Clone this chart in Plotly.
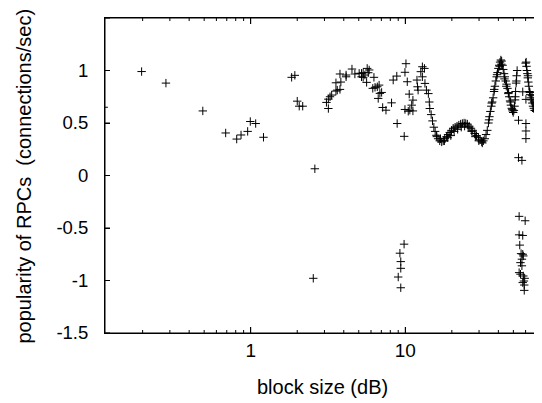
import plotly.graph_objects as go

# ---- data ----
sparse_x = [0.112, 0.197, 0.283, 0.49, 0.689, 0.812, 0.866, 0.956, 0.994, 1.077, 1.21,
            1.84, 1.93, 2.0, 2.06, 2.17, 2.6, 2.54,
            3.09, 3.18, 3.18, 3.26, 3.34, 3.56, 3.63, 3.78, 3.56, 3.83, 3.78,
            4.14, 4.14, 4.52, 4.72, 5.03, 5.21, 5.34, 5.21, 5.34, 5.48,
            5.67, 5.84, 5.76, 5.62, 6.27, 6.16, 6.37, 6.59, 6.77, 6.68, 6.85, 7.03,
            7.14, 7.5, 8.15, 8.86, 9.84, 8.35, 8.81, 9.95, 10.1, 10.3, 9.95, 10.45,
            10.6, 10.7, 11.2, 11.0, 11.2, 11.9, 12.0, 12.1]
sparse_y = [0.65, 0.99, 0.88, 0.615, 0.405, 0.347, 0.386, 0.42, 0.514, 0.495, 0.364,
            0.935, 0.954, 0.708, 0.66, 0.66, 0.064, -0.979,
            0.696, 0.638, 0.727, 0.75, 0.766, 0.804, 0.813, 0.82, 0.883, 0.89, 0.967,
            0.957, 0.94, 1.014, 0.967, 0.973, 0.973, 0.979, 0.94, 0.935, 0.957,
            1.02, 1.005, 0.979, 0.887, 0.935, 0.83, 0.84, 0.845, 0.861, 0.734, 0.782, 0.791,
            0.648, 0.622, 0.692, 0.495, 0.373, 0.909, 0.947, 0.983, 1.065, 0.893, 0.629, 0.612,
            0.775, 0.622, 0.615, 0.67, 0.718, 0.909, 0.845, 0.813]

low_x = [9.82, 9.23, 9.35, 9.35, 9.0, 9.35,
         54.5, 59.6, 54.5, 57.5, 55.0, 56.1, 57.5, 58.0, 56.8, 55.6, 56.8,
         54.5, 55.6, 58.0, 59.2, 58.5, 57.5, 58.8, 58.8,
         54.0, 56.8, 57.5, 60.3, 54.0, 60.3, 60.3, 60.3]
low_y = [-0.654, -0.74, -0.82, -0.884, -0.967, -1.069,
         -0.389, -0.431, -0.565, -0.571, -0.663, -0.744, -0.75, -0.766, -0.797, -0.83, -0.86,
         -0.925, -0.94, -0.957, -0.979, -1.005, -1.02, -1.043, -1.094,
         0.17, 0.144, 0.797, 0.725, 0.526, 0.495, 0.424, 0.351]

dense_x = [12.6, 12.9, 13.3, 12.9, 13.4, 13.7, 14.1, 14.3, 14.4, 14.7, 15.0, 15.3, 15.6, 15.9,
           16.3, 16.7, 17.2, 17.6, 18.0, 18.5, 18.9, 19.4, 19.9, 20.4, 21.0, 21.6, 22.2,
           22.8, 23.4, 24.0, 24.6, 25.2, 25.9, 26.6, 27.3, 28.1, 28.9, 29.7, 30.5, 31.2,
           32.0, 32.7,
           16.0, 16.9, 17.9, 18.8, 19.7, 20.7, 21.8, 23.0, 24.2, 25.5, 26.9, 28.4, 29.9, 31.5,
           33.3, 33.9, 34.5, 35.0, 35.5, 36.0, 36.5, 37.0, 37.5, 38.0, 38.5, 39.0, 39.5,
           40.0, 40.5, 41.0, 41.5, 42.0, 42.6, 34.8, 36.2, 37.6, 39.2, 40.8, 41.8,
           43.0, 43.5, 44.0, 44.6, 45.2, 45.8, 46.4, 47.0, 47.6, 48.2, 48.8, 49.4, 49.9, 50.4,
           43.8, 45.0, 46.6, 48.0, 49.2,
           50.9, 51.3, 51.7, 52.1, 52.5, 52.9, 51.5, 52.3,
           60.0, 60.5, 60.8, 61.2, 61.6, 62.0, 62.5, 63.0, 63.6, 64.2, 64.9, 65.6, 66.3,
           67.0, 67.8, 68.6, 69.4, 70.2, 71.0, 71.8, 72.6, 73.4, 74.0,
           68.0, 69.0, 70.0, 71.0, 72.0, 73.0, 72.0, 70.0, 66.0, 64.0, 62.2]
dense_y = [0.989, 1.036, 1.02, 0.94, 0.877, 0.813, 0.78, 0.70, 0.638, 0.58, 0.52, 0.46, 0.42, 0.383,
           0.35, 0.33, 0.32, 0.33, 0.35, 0.37, 0.39, 0.41, 0.43, 0.45, 0.46, 0.47, 0.48,
           0.49, 0.495, 0.50, 0.495, 0.49, 0.47, 0.45, 0.43, 0.40, 0.38, 0.36, 0.34, 0.32,
           0.33, 0.35,
           0.37, 0.35, 0.33, 0.36, 0.38, 0.42, 0.44, 0.46, 0.47, 0.46, 0.42, 0.37, 0.33, 0.31,
           0.39, 0.43, 0.50, 0.56, 0.61, 0.66, 0.70, 0.74, 0.80, 0.85, 0.90, 0.94, 0.98,
           1.02, 1.05, 1.08, 1.10, 1.09, 1.05, 0.53, 0.69, 0.82, 0.96, 1.04, 1.06,
           1.01, 0.97, 0.94, 0.90, 0.87, 0.83, 0.78, 0.75, 0.71, 0.67, 0.64, 0.615, 0.60, 0.62,
           0.92, 0.85, 0.79, 0.70, 0.63,
           0.66, 0.72, 0.80, 0.88, 0.95, 1.00, 0.75, 0.90,
           1.07, 1.08, 1.04, 1.00, 0.97, 0.93, 0.89, 0.85, 0.80, 0.77, 0.74, 0.72, 0.69,
           0.66, 0.64, 0.62, 0.62, 0.61, 0.63, 0.65, 0.68, 0.70, 0.72,
           0.70, 0.68, 0.66, 0.70, 0.74, 0.62, 0.60, 0.72, 0.76, 0.79, 0.95]

x_tick_vals = [1, 10]
x_tick_labels = ["1", "10"]
x_minor_tick_vals = [0.2, 0.3, 0.4, 0.5, 0.6, 0.7, 0.8, 0.9,
                     2, 3, 4, 5, 6, 7, 8, 9,
                     20, 30, 40, 50, 60, 70]
y_tick_vals = [-1.5, -1, -0.5, 0, 0.5, 1, 1.5]
y_tick_labels = ["-1.5", "-1", "-0.5", "0", "0.5", "1", "1.5"]
x_title = "block size (dB)"
y_title = "popularity of RPCs  (connections/sec)"

all_x = sparse_x + low_x + dense_x
all_y = sparse_y + low_y + dense_y

FONT = "Liberation Sans, Arial, Helvetica, sans-serif"
X_RANGE = [-0.9424, 1.8713]   # log10 units
Y_RANGE = [-1.5, 1.5]
PLOT_W, PLOT_H = 435, 315     # plot-area size in px

# frame and inward tick marks, built from the axis ranges (gnuplot-style border)
x_lo, x_hi = 10 ** X_RANGE[0], 10 ** X_RANGE[1]
y_lo, y_hi = Y_RANGE
dlx = (X_RANGE[1] - X_RANGE[0]) * 5 / PLOT_W
dy_major = (y_hi - y_lo) * 6 / PLOT_H
dy_minor = (y_hi - y_lo) * 3 / PLOT_H
border_x = [x_lo, x_hi, x_hi, x_lo, x_lo, None]
border_y = [y_lo, y_lo, y_hi, y_hi, y_lo, None]
for v in y_tick_vals:
    border_x += [x_lo, x_lo * 10 ** dlx, None, x_hi / 10 ** dlx, x_hi, None]
    border_y += [v, v, None, v, v, None]
for t in x_tick_vals:
    border_x += [t, t, None, t, t, None]
    border_y += [y_lo, y_lo + dy_major, None, y_hi - dy_major, y_hi, None]
for t in x_minor_tick_vals:
    border_x += [t, t, None, t, t, None]
    border_y += [y_lo, y_lo + dy_minor, None, y_hi - dy_minor, y_hi, None]

fig = go.Figure()
fig.add_trace(go.Scatter(
    x=all_x, y=all_y, mode="markers",
    marker=dict(symbol="cross-thin", size=6, line=dict(color="black", width=1)),
    showlegend=False,
))
fig.add_trace(go.Scatter(
    x=border_x, y=border_y, mode="lines",
    line=dict(color="black", width=1), connectgaps=False,
    showlegend=False, hoverinfo="skip", cliponaxis=False,
))

fig.update_layout(
    width=534, height=395,
    margin=dict(l=97, r=2, t=10, b=70),
    paper_bgcolor="white", plot_bgcolor="white",
    xaxis=dict(
        type="log", range=X_RANGE,
        tickvals=x_tick_vals, ticktext=x_tick_labels,
        ticks="inside", ticklen=6, tickcolor="black",
        showline=True, linecolor="black", linewidth=1, mirror="ticks",
        showgrid=False, zeroline=False, automargin=False,
        tickfont=dict(family=FONT, size=19, color="black"),
    ),
    yaxis=dict(
        range=Y_RANGE,
        tickvals=y_tick_vals, ticktext=y_tick_labels,
        ticks="inside", ticklen=5, tickcolor="black",
        showline=True, linecolor="black", linewidth=1, mirror="ticks",
        showgrid=False, zeroline=False, automargin=False,
        tickfont=dict(family=FONT, size=18.5, color="black"), ticklabelstandoff=12,
    ),
    annotations=[
        dict(text=x_title, xref="paper", yref="paper", x=0.5, y=-0.173,
             xanchor="center", yanchor="middle", showarrow=False,
             font=dict(family=FONT, size=20, color="black")),
        dict(text=y_title, xref="paper", yref="paper", x=-0.186, y=0.497,
             xanchor="center", yanchor="middle", showarrow=False, textangle=-90,
             font=dict(family=FONT, size=20, color="black")),
    ],
)

fig.write_html("out.html")
